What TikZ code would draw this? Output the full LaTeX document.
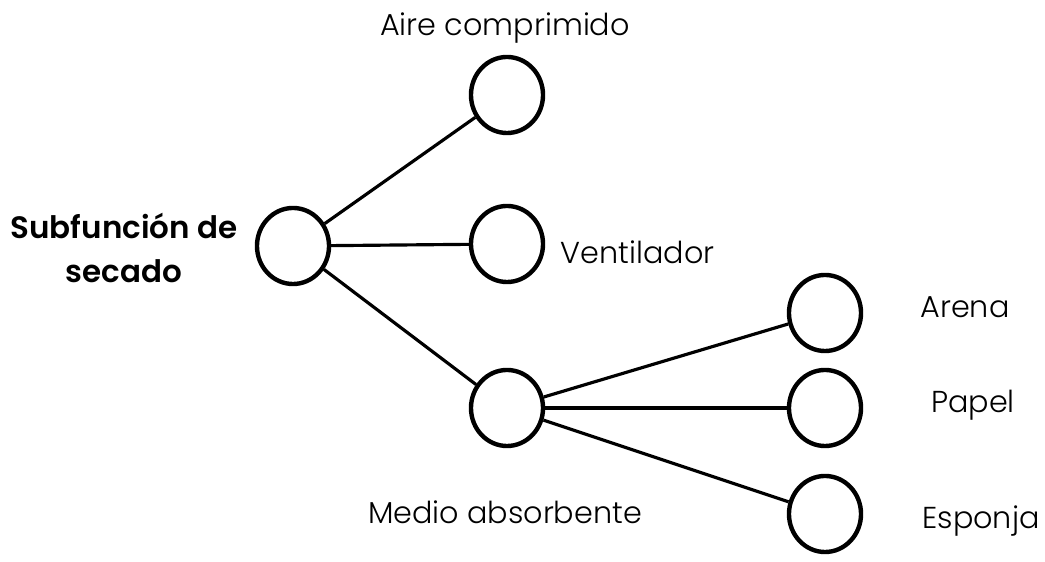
\documentclass[tikz,border=0pt]{standalone}
\usepackage{fontspec}
\setmainfont{Poppins}[UprightFont=* Light, BoldFont=* SemiBold]
\usepackage{tikz}
\usetikzlibrary{shapes.geometric}

\begin{document}
\begin{tikzpicture}[x=0.01cm, y=-0.01cm,
  optnode/.style={draw, ellipse, line width=1.25pt, minimum width=0.72cm, minimum height=0.76cm, inner sep=0pt},
  optlabel/.style={font=\fontsize{8.6}{10}\selectfont, inner sep=0pt},
  branch/.style={line width=0.9pt}]
\useasboundingbox (0,0) rectangle (1045,562);
\node[optnode] (root) at (293,246) {};
\node[optnode] (aire) at (507,95) {};
\node[optnode] (vent) at (507,244) {};
\node[optnode] (medio) at (507,408) {};
\node[optnode] (arena) at (825,313) {};
\node[optnode] (papel) at (825,408) {};
\node[optnode] (esponja) at (825,514) {};
% Labels
\node[optlabel, font=\fontsize{8.8}{12.4}\selectfont\bfseries, align=center] (rootlbl) at (124,248) {Subfunción de\\secado};
\node[optlabel] (airelbl) at (505,28) {Aire comprimido};
\node[optlabel, anchor=west] (ventlbl) at (560,252) {Ventilador};
\node[optlabel] (mediolbl) at (505,512) {Medio absorbente};
\node[optlabel] (arenalbl) at (965,307) {Arena};
\node[optlabel] (papellbl) at (973,405) {Papel};
\node[optlabel] (esponjalbl) at (981,521) {Esponja};
% Branches
\draw[branch] (root) -- (aire);
\draw[branch] (root) -- (vent);
\draw[branch] (root) -- (medio);
\draw[branch] (medio) -- (arena);
\draw[branch] (medio) -- (papel);
\draw[branch] (medio) -- (esponja);
\end{tikzpicture}
\end{document}
